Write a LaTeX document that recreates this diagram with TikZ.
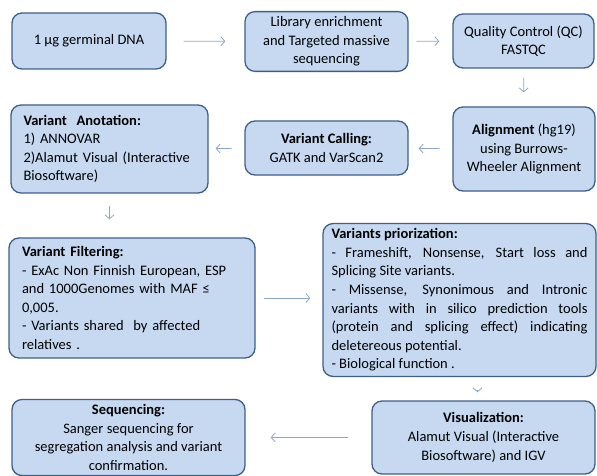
\documentclass[tikz,border=0pt]{standalone}
\usepackage{fontspec}
\setmainfont{Carlito}
\usetikzlibrary{arrows.meta, positioning, calc}
\definecolor{boxfill}{HTML}{C6D9F1}
\definecolor{boxline}{HTML}{3E5F8A}
\definecolor{arrowline}{HTML}{8EA6C6}

\begin{document}
\begin{tikzpicture}[x=1pt, y=-1pt, every node/.style={font=\fontsize{14.5}{18.6}\selectfont}]
    \tikzset{
      stepbox/.style={rectangle, rounded corners=10pt, draw=boxline, line width=1.3pt,
                      fill=boxfill, align=center, inner sep=5pt},
      flow/.style={-{Straight Barb[length=4pt, width=9pt]}, arrowline, line width=0.8pt}}
    \useasboundingbox (0,0) rectangle (597,476);
    \node[stepbox, minimum width=154pt, minimum height=56pt] (dna) at (89,41) {1 µg germinal DNA};
    \node[stepbox, minimum width=163pt, minimum height=55pt] (lib) at (326.5,41.5)
        {Library enrichment\\and Targeted massive\\sequencing};
    \node[stepbox, minimum width=141pt, minimum height=54pt] (qc) at (523.5,41)
        {Quality Control (QC)\\FASTQC};
    \node[stepbox, minimum width=142pt, minimum height=84pt] (align) at (524,149)
        {\textbf{Alignment} (hg19)\\using Burrows-\\Wheeler Alignment};
    \node[stepbox, minimum width=163pt, minimum height=54pt] (call) at (326.5,148)
        {\textbf{Variant Calling:}\\GATK and VarScan2};
    \node[stepbox, minimum width=197pt, minimum height=88pt, text width=172pt, align=left] (annot) at (109.5,149)
        {\textbf{Variant\ \ Anotation:}\\1) ANNOVAR\\2)Alamut Visual (Interactive\\Biosoftware)};
    \node[stepbox, minimum width=246pt, minimum height=120pt, text width=220pt, align=left] (filt) at (132,298)
        {\textbf{Variant Filtering:}\\- ExAc Non Finnish European, ESP\\and 1000Genomes with MAF ≤\\0,005.\\- Variants shared\ \ by affected\\relatives .};
    \node[stepbox, minimum width=273pt, minimum height=144pt, text width=256pt, align=justify] (prio) at (459.5,300)
        {\textbf{Variants priorization:}\\- Frameshift, Nonsense, Start loss and\linebreak Splicing Site variants.\\-\ Missense, Synonimous and Intronic\linebreak variants with in silico prediction tools\linebreak (protein and splicing effect) indicating\linebreak deletereous potential.\\- Biological function .};
    \node[stepbox, minimum width=223pt, minimum height=73pt] (vis) at (483.5,437.5)
        {\textbf{Visualization:}\\Alamut Visual (Interactive\\Biosoftware) and IGV};
    \node[stepbox, minimum width=233pt, minimum height=73pt] (seq) at (128.5,437.5)
        {\textbf{Sequencing:}\\Sanger sequencing for\\segregation analysis and variant\\confirmation.};
    \draw[flow, shorten <=17pt, shorten >=19pt] (dna) -- (lib);
    \draw[flow, shorten <=8pt, shorten >=13pt] (lib) -- (qc);
    \draw[flow, shorten <=9pt, shorten >=14pt] (qc) -- (align);
    \draw[flow, shorten <=13pt, shorten >=10pt] (align) -- (call);
    \draw[flow, shorten <=13pt, shorten >=7pt] (call) -- (annot);
    \draw[flow, shorten <=12pt, shorten >=18pt] (annot.south) -- (annot.south |- filt.north);
    \draw[flow, shorten <=8pt, shorten >=12pt] (filt.east) -- (filt.east -| prio.west);
    \draw[flow, shorten <=13pt, shorten >=8pt] ([xshift=18pt]prio.south) -- ([xshift=18pt]prio.south |- vis.north);
    \draw[flow, shorten <=23pt, shorten >=25pt] (vis) -- (seq);
\end{tikzpicture}
\end{document}
